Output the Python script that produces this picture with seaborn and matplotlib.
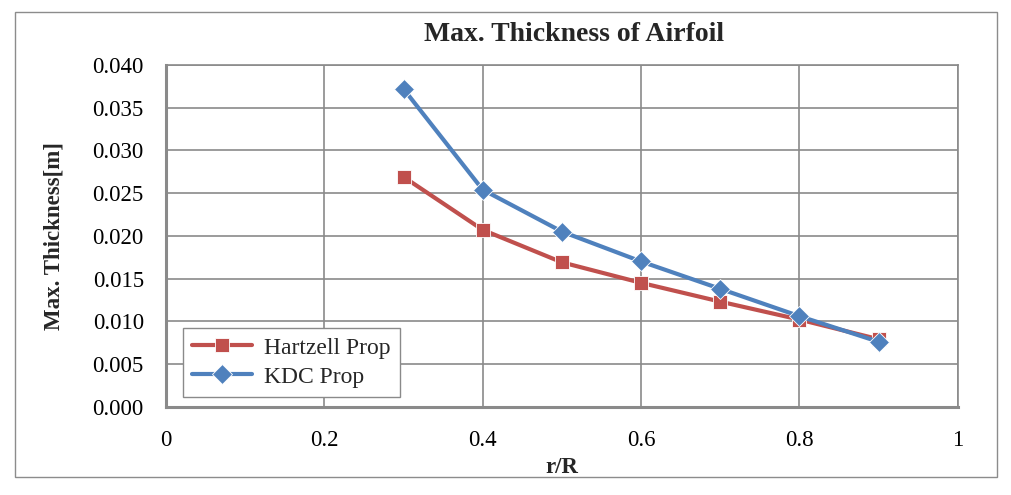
import matplotlib
matplotlib.use("Agg")
import matplotlib.pyplot as plt
import seaborn as sns
import pandas as pd
from matplotlib.patches import Rectangle

# ── data ────────────────────────────────────────────────────────────────────
r_over_R = [0.3, 0.4, 0.5, 0.6, 0.7, 0.8, 0.9]
hartzell_thk = [0.0269, 0.0207, 0.0169, 0.0145, 0.0123, 0.0102, 0.0079]
kdc_thk = [0.0372, 0.0254, 0.0205, 0.0170, 0.0138, 0.0106, 0.0076]
series_names = ["Hartzell Prop", "KDC Prop"]
x_ticks = [0, 0.2, 0.4, 0.6, 0.8, 1]
x_tick_labels = ["0", "0.2", "0.4", "0.6", "0.8", "1"]
y_ticks = [0.000, 0.005, 0.010, 0.015, 0.020, 0.025, 0.030, 0.035, 0.040]

df = pd.DataFrame({
    "r/R": r_over_R * 2,
    "thk": hartzell_thk + kdc_thk,
    "series": [series_names[0]] * len(r_over_R) + [series_names[1]] * len(r_over_R),
})

sns.set_style("white")
plt.rcParams["font.family"] = ["Liberation Serif", "DejaVu Serif"]

fig = plt.figure(figsize=(10.11, 4.95), dpi=100)
ax = fig.add_axes([0.1642, 0.1784, 0.7831, 0.6903])

# outer chart frame
fig.patches.append(Rectangle((15 / 1011, 1 - 477 / 495), 982 / 1011, 465 / 495,
                             transform=fig.transFigure, fill=False,
                             edgecolor="#8c8c8c", linewidth=1.0))

grid_c = "#8a8a8a"
ax.set_xticks(x_ticks)
ax.set_yticks(y_ticks)
ax.grid(True, color=grid_c, linewidth=1.2)
ax.set_axisbelow(True)

palette = {series_names[0]: "#C0504D", series_names[1]: "#4F81BD"}
markers = {series_names[0]: "s", series_names[1]: "D"}
sns.lineplot(data=df, x="r/R", y="thk", hue="series", style="series",
             palette=palette, markers=markers, dashes=False,
             linewidth=3, markersize=10.5, markeredgewidth=0.6,
             markeredgecolor="white", ax=ax, legend=True)

ax.set_xlim(0, 1)
ax.set_ylim(0, 0.040)
ax.set_xticklabels(x_tick_labels)
ax.set_yticklabels([f"{v:.3f}" for v in y_ticks])
ax.tick_params(axis="both", length=0, labelsize=16.5, colors="black")
ax.tick_params(axis="x", pad=17)
ax.tick_params(axis="y", pad=16)

for side in ["left", "bottom"]:
    ax.spines[side].set_color("#8a8a8a")
    ax.spines[side].set_linewidth(2.2)
for side in ["right", "top"]:
    ax.spines[side].set_color("#8a8a8a")
    ax.spines[side].set_linewidth(1.2)

# title sits centred on the chart frame, a bit right of the plot centre
ax.set_title("Max. Thickness of Airfoil", fontsize=20, fontweight="bold",
             pad=17, x=0.515)
ax.set_xlabel("r/R", fontsize=16.5, fontweight="bold", labelpad=4)
ax.set_ylabel("Max. Thickness[m]", fontsize=16.5, fontweight="bold", labelpad=20)

leg = ax.legend(loc="lower left", bbox_to_anchor=(0.0215, 0.028), fontsize=17,
                frameon=True, fancybox=False, edgecolor="#8a8a8a",
                borderpad=0.4, borderaxespad=0, handlelength=2.5,
                handletextpad=0.55, labelspacing=0.32)
leg.get_frame().set_linewidth(1.0)
leg.get_frame().set_alpha(1)
for line in leg.get_lines():
    line.set_linewidth(3)

fig.savefig("out.png", dpi=100)
